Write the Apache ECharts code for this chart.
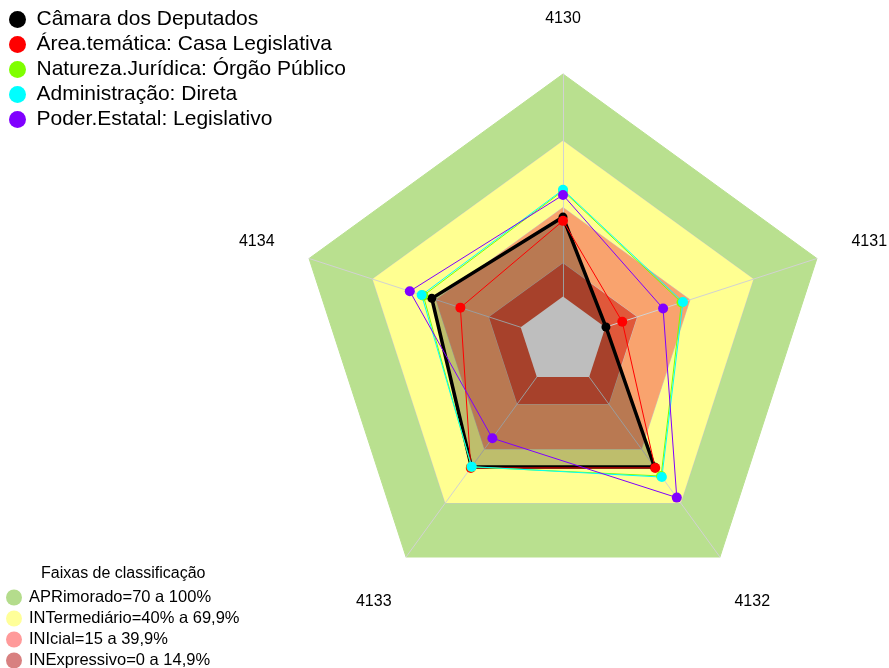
<!DOCTYPE html>
<html>
<head>
<meta charset="utf-8">
<script src="https://cdn.jsdelivr.net/npm/echarts@6/dist/echarts.min.js"></script>
<style>
  html, body { margin: 0; padding: 0; background: #fff; }
  #chart { width: 889px; height: 668px; }
</style>
</head>
<body>
<div id="chart"></div>
<script>
  // dados
  const categories = ['4130', '4131', '4132', '4133', '4134'];
  const seriesNames = [
    'Câmara dos Deputados',
    'Área.temática: Casa Legislativa',
    'Natureza.Jurídica: Órgão Público',
    'Administração: Direta',
    'Poder.Estatal: Legislativo',
  ];
  const camara = [35.7, 0.3, 50, 50, 42];
  const areaTematica = [34, 8, 50.5, 50.5, 28.5];
  const natureza = [47.5, 36, 55, 50, 46];
  const administracao = [48, 36.7, 55.6, 49.8, 46.8];
  const poderEstatal = [45.6, 27.3, 67, 34, 52.4];

  // faixas de classificação (limite superior de cada faixa)
  const bandNames = [
    'APRimorado=70 a 100%',
    'INTermediário=40% a 69,9%',
    'INIcial=15 a 39,9%',
    'INExpressivo=0 a 14,9%',
  ];
  const bandUpper = [100, 70, 40, 15];
  const axisMin = -20;
  const axisZero = 0; // miolo vazio de -20 a 0
  const axisMax = 100;

  // cores
  const bandFill = ['#B9E08F', '#FFFF91', '#F9A36E', '#E0583A'];
  const bandLegend = ['#B4DC8C', '#FFFF99', '#FF9A9A', '#D88080'];
  const lineColors = ['#000000', '#FF0000', '#7FFF00', '#00FFFF', '#8000FF'];

  // echarts desenha os eixos no sentido anti-horário, então inverte a ordem
  const order = [0, 4, 3, 2, 1];
  const reorder = (arr) => order.map((i) => arr[i]);

  const values = [camara, areaTematica, natureza, administracao, poderEstatal];

  const chart = echarts.init(document.getElementById('chart'));
  const font = '"Liberation Sans", Arial, sans-serif';

  const option = {
    animation: false,
    title: {
      text: 'Faixas de classificação',
      left: 36,
      top: 561,
      textStyle: { fontSize: 16, fontWeight: 'normal', color: '#000', fontFamily: font },
    },
    legend: [
      {
        orient: 'vertical',
        left: 4,
        top: 4,
        icon: 'circle',
        itemWidth: 28,
        itemHeight: 17,
        itemGap: 4,
        selectedMode: false,
        textStyle: { fontSize: 21, color: '#000', fontFamily: font },
        data: seriesNames,
      },
      {
        orient: 'vertical',
        left: 1,
        top: 584,
        height: 90,
        icon: 'circle',
        itemWidth: 20,
        itemHeight: 16,
        itemGap: 4,
        selectedMode: false,
        textStyle: { fontSize: 16.5, color: '#000', fontFamily: font },
        data: bandNames.map((name, i) => ({ name, itemStyle: { color: bandLegend[i] } })),
      },
    ],
    radar: {
      center: [563, 341],
      radius: 267,
      shape: 'polygon',
      z: 2,
      nameGap: 55,
      axisName: {
        color: '#000',
        fontSize: 16,
        fontFamily: font,
        align: 'center',
        verticalAlign: 'middle',
      },
      splitLine: { show: false },
      splitArea: { show: false },
      axisLine: { lineStyle: { color: '#d2d2d2', width: 1 } },
      indicator: reorder(categories).map((name) => ({ name, min: axisMin, max: axisMax })),
    },
    series: [
      {
        name: 'faixas',
        type: 'radar',
        z: 1,
        silent: true,
        symbol: 'none',
        data: bandNames.map((name, i) => ({
          name,
          value: categories.map(() => bandUpper[i]),
          lineStyle: { color: i === 0 ? bandFill[0] : '#c8c8c8', width: 1 },
          areaStyle: { color: bandFill[i], opacity: 1 },
          itemStyle: { color: bandLegend[i] },
        })),
      },
      {
        // miolo branco por cima dos eixos
        name: 'miolo',
        type: 'radar',
        z: 3,
        silent: true,
        symbol: 'none',
        data: [{
          name: 'miolo',
          value: categories.map(() => axisZero),
          lineStyle: { width: 0 },
          areaStyle: { color: '#fff', opacity: 1 },
        }],
      },
      {
        name: 'dados',
        type: 'radar',
        z: 4,
        symbol: 'circle',
        data: seriesNames.map((name, i) => ({
          name,
          value: reorder(values[i]),
          symbolSize: i === 0 ? 9 : 10,
          lineStyle: { color: lineColors[i], width: i === 0 ? 3.5 : 1 },
          itemStyle: { color: lineColors[i] },
          areaStyle: i === 0 ? { color: 'rgba(0,0,0,0.255)', opacity: 1 } : undefined,
        })),
      },
    ],
  };

  chart.setOption(option);
</script>
</body>
</html>
